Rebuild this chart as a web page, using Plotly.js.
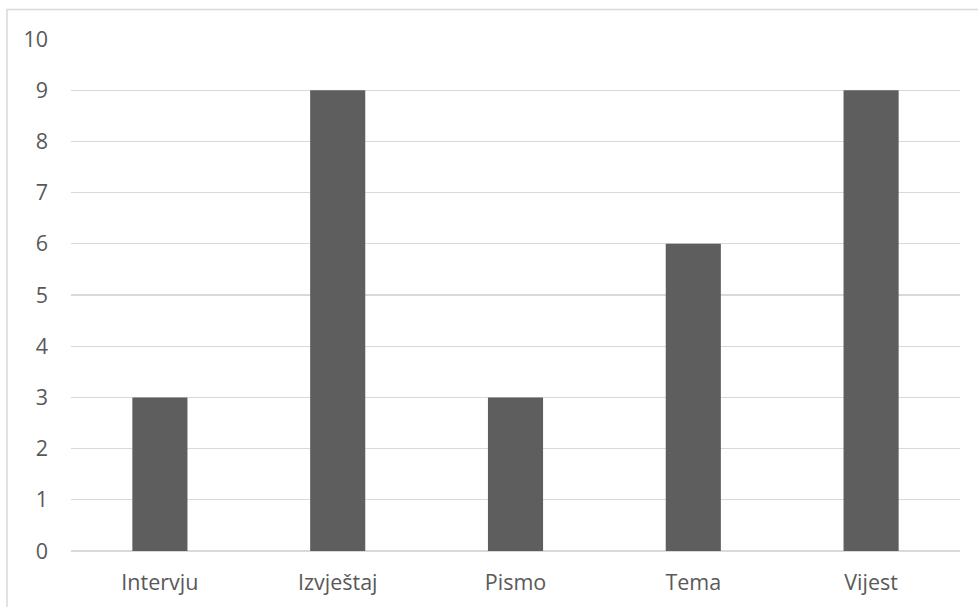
<!DOCTYPE html>
<html>
<head>
<meta charset="utf-8">
<script src="https://cdn.plot.ly/plotly-3.0.1.min.js"></script>
<style>
html,body{margin:0;padding:0;background:#fff;overflow:hidden;}
#chart{width:978px;height:607px;}
</style>
</head>
<body>
<div id="chart"></div>
<script>
const categories = ["Intervju", "Izvještaj", "Pismo", "Tema", "Vijest"];
const values = [3, 9, 3, 6, 9];
const yTicks = [0,1,2,3,4,5,6,7,8,9,10];

const W = 978, H = 607;
const margin = {l: 71, r: 18, t: 38.5, b: 55.5};
const pw = W - margin.l - margin.r, ph = H - margin.t - margin.b;
// outer border (frame of chart area), cropped at right/bottom
const bx0 = (7 - margin.l) / pw, bx1 = (W + 20 - margin.l) / pw;
const by1 = (H - margin.b - 9) / ph, by0 = (H - margin.b - (H + 20)) / ph;

Plotly.newPlot('chart', [{
  type: 'bar',
  x: categories,
  y: values,
  marker: {color: '#5e5e5e'},
  hoverinfo: 'x+y'
}], {
  width: W, height: H,
  margin: margin,
  paper_bgcolor: '#fff',
  plot_bgcolor: '#fff',
  bargap: 0.69,
  showlegend: false,
  font: {family: '"Open Sans", Lato, sans-serif', size: 21.5, color: '#595959'},
  xaxis: {
    showgrid: false, zeroline: false, showline: false,
    ticks: '', ticklabelstandoff: 16,
    tickfont: {size: 21.5, color: '#595959'}
  },
  yaxis: {
    range: [0, 10], tickvals: yTicks, ticktext: yTicks.map(String),
    showgrid: true, gridcolor: '#d9d9d9', gridwidth: 1.3,
    zeroline: true, zerolinecolor: '#d9d9d9', zerolinewidth: 1.3,
    showline: false, ticks: '', ticklabelstandoff: 22,
    tickfont: {size: 21.5, color: '#595959'}
  },
  shapes: [{
    type: 'rect', xref: 'paper', yref: 'paper',
    x0: bx0, x1: bx1, y0: by0, y1: by1,
    line: {color: '#d9d9d9', width: 1.5}, fillcolor: 'rgba(0,0,0,0)', layer: 'below'
  }]
}, {displayModeBar: false, staticPlot: true});
</script>
</body>
</html>
